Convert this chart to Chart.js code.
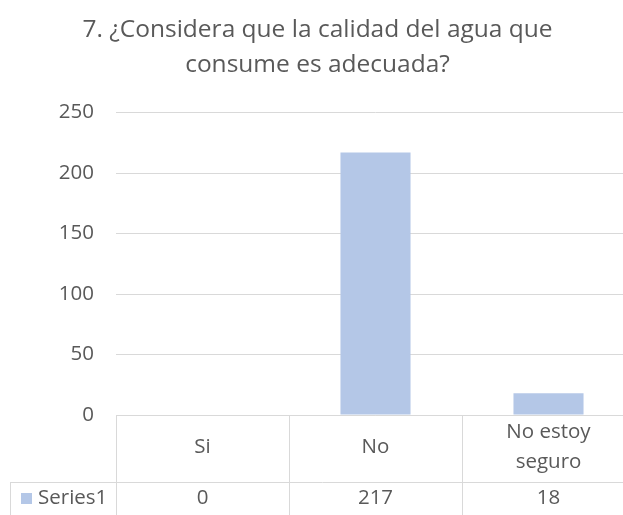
<!DOCTYPE html>
<html>
<head>
<meta charset="utf-8">
<script src="https://cdn.jsdelivr.net/npm/chart.js@4"></script>
<style>
  html, body { margin: 0; padding: 0; background: #fff; overflow: hidden; }
  #wrap { width: 636px; height: 515px; }
</style>
</head>
<body>
<div id="wrap"><canvas id="chart" width="636" height="515"></canvas></div>
<script>
const categories = [["Si"], ["No"], ["No estoy", "seguro"]];
const seriesName = "Series1";
const seriesValues = [0, 217, 18];
const yTicks = [0, 50, 100, 150, 200, 250];

const textColor = "#595959";
const gridColor = "#d9d9d9";
const barColor = "#b4c7e7";
const fontFamily = '"Open Sans", "Noto Sans", sans-serif';

// data table under the plot, Excel style
const dataTablePlugin = {
  id: "dataTable",
  afterDraw(chart) {
    const { ctx, chartArea, scales } = chart;
    const x = scales.x;
    const top = chartArea.bottom;
    const rowSplit = top + 67;
    const bottom = chart.height + 2;
    const tableLeft = 10;
    const step = x.getPixelForValue(1) - x.getPixelForValue(0);
    const edges = seriesValues.map((_, i) => x.getPixelForValue(i) - step / 2);
    edges.push(x.getPixelForValue(seriesValues.length - 1) + step / 2);

    ctx.save();
    ctx.strokeStyle = gridColor;
    ctx.lineWidth = 1;
    ctx.beginPath();
    ctx.moveTo(chartArea.left, top + 0.5);
    ctx.lineTo(edges[edges.length - 1], top + 0.5);
    ctx.moveTo(tableLeft, rowSplit + 0.5);
    ctx.lineTo(edges[edges.length - 1], rowSplit + 0.5);
    ctx.moveTo(tableLeft + 0.5, rowSplit);
    ctx.lineTo(tableLeft + 0.5, bottom);
    edges.forEach((ex) => {
      ctx.moveTo(Math.round(ex) + 0.5, top);
      ctx.lineTo(Math.round(ex) + 0.5, bottom);
    });
    ctx.stroke();

    ctx.fillStyle = textColor;
    ctx.font = "20.5px " + fontFamily;
    ctx.textAlign = "center";
    ctx.textBaseline = "middle";
    categories.forEach((lines, i) => {
      const cx = x.getPixelForValue(i);
      const mid = (top + rowSplit) / 2 - 1;
      const lh = 30;
      lines.forEach((line, j) => {
        ctx.fillText(line, cx, mid + (j - (lines.length - 1) / 2) * lh);
      });
      ctx.fillText(String(seriesValues[i]), cx, rowSplit + 16);
    });

    ctx.fillStyle = barColor;
    ctx.fillRect(tableLeft + 11, rowSplit + 11, 11, 11);
    ctx.fillStyle = textColor;
    ctx.textAlign = "left";
    ctx.fillText(seriesName, tableLeft + 28, rowSplit + 16);
    ctx.restore();
  }
};

new Chart(document.getElementById("chart"), {
  type: "bar",
  data: {
    labels: categories,
    datasets: [{
      label: seriesName,
      data: seriesValues,
      backgroundColor: barColor,
      categoryPercentage: 1,
      barPercentage: 0.405
    }]
  },
  options: {
    responsive: false,
    animation: false,
    layout: { padding: { left: 0, right: 1, top: 0, bottom: 100 } },
    scales: {
      x: { display: false },
      y: {
        min: 0,
        max: 250,
        afterFit: (scale) => { scale.width = 116; },
        afterBuildTicks: (scale) => { scale.ticks = yTicks.map((v) => ({ value: v })); },
        border: { display: false },
        grid: { color: gridColor, drawTicks: false, lineWidth: 1 },
        ticks: {
          color: textColor,
          padding: 22,
          font: { size: 20.5, family: fontFamily }
        }
      }
    },
    plugins: {
      legend: { display: false },
      tooltip: { enabled: false },
      title: {
        display: true,
        text: ["7. ¿Considera que la calidad del agua que", "consume es adecuada?"],
        color: textColor,
        font: { size: 24.5, family: fontFamily, weight: "normal", lineHeight: 1.43 },
        padding: { top: 12, bottom: 30.5 }
      }
    }
  },
  plugins: [dataTablePlugin]
});
</script>
</body>
</html>
